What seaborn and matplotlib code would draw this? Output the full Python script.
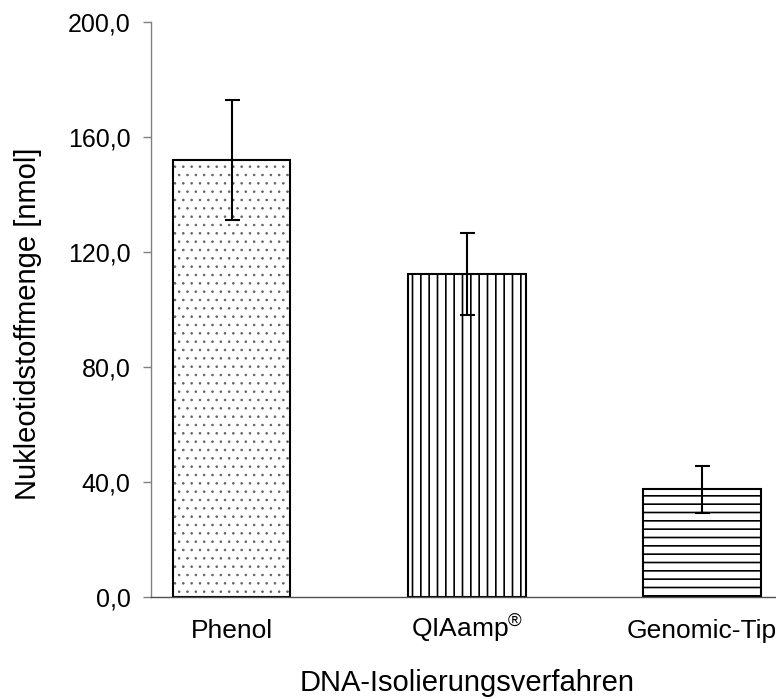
import matplotlib
matplotlib.use("Agg")
import matplotlib.pyplot as plt
import matplotlib.colors as mcolors
import seaborn as sns
import pandas as pd

# ---- data ----
methods = ["Phenol", "QIAamp$^{®}$", "Genomic-Tip"]
means = [152.0, 112.3, 37.5]
sds = [21.0, 14.2, 8.2]
hatches = ["..", "||", "--"]
hatch_colors = ["#606060", "black", "black"]
hatch_widths = [0.6, 1.2, 1.2]
yticks = [0, 40, 80, 120, 160, 200]
ytick_labels = ["0,0", "40,0", "80,0", "120,0", "160,0", "200,0"]
xlabel = "DNA-Isolierungsverfahren"
ylabel = "Nukleotidstoffmenge [nmol]"

sns.set_theme(style="white")
plt.rcParams["font.family"] = ["Liberation Sans", "DejaVu Sans"]
plt.rcParams["mathtext.fontset"] = "custom"
plt.rcParams["mathtext.rm"] = "Liberation Sans"
plt.rcParams["mathtext.it"] = "Liberation Sans:italic"
plt.rcParams["mathtext.bf"] = "Liberation Sans:bold"
plt.rcParams["hatch.linewidth"] = 1.2

df = pd.DataFrame({"method": methods, "value": means, "sd": sds})

fig = plt.figure(figsize=(7.76, 6.99), dpi=100)
ax = fig.add_axes([150.5 / 776, 102 / 699, (783 - 150.5) / 776, 575 / 699])

sns.barplot(data=df, x="method", y="value", order=methods, color="white",
            edgecolor="black", linewidth=1.5, errorbar=None, width=0.5,
            saturation=1, ax=ax)
for patch, h, hc, hw in zip(ax.patches, hatches, hatch_colors, hatch_widths):
    patch.set_hatch(h)
    patch.set_edgecolor("black")
    patch.set_facecolor("white")
    done = False
    if hasattr(patch, "set_hatchcolor"):
        try:
            patch.set_hatchcolor(hc)
            done = True
        except Exception:
            pass
    if not done:
        patch._hatch_color = mcolors.to_rgba(hc)
    if hasattr(patch, "set_hatch_linewidth"):
        try:
            patch.set_hatch_linewidth(hw)
        except Exception:
            pass
    patch.stale = True

ax.errorbar(x=df["method"], y=df["value"], yerr=df["sd"], fmt="none",
            ecolor="black", elinewidth=1.5, capsize=5.4, capthick=1.5, zorder=5)

ax.set_xlim(-0.345, 2.345)
ax.set_ylim(0, 200)
ax.set_yticks(yticks)
ax.set_yticklabels(ytick_labels, fontsize=18, color="black")
ax.tick_params(axis="y", direction="out", length=5.8, width=1, color="#808080",
               pad=8.6, left=True)
ax.tick_params(axis="x", length=0, pad=29.5, labelsize=19, labelcolor="black")
for lab in ax.get_xticklabels():
    lab.set_verticalalignment("baseline")

for s in ["top", "right"]:
    ax.spines[s].set_visible(False)
ax.spines["left"].set_color("#808080")
ax.spines["left"].set_linewidth(1.0)
ax.spines["bottom"].set_color("#505050")
ax.spines["bottom"].set_linewidth(1.0)
ax.spines["left"].set_zorder(6)
ax.spines["bottom"].set_zorder(6)

ax.set_xlabel(xlabel, fontsize=21, color="black")
ax.set_ylabel(ylabel, fontsize=21, color="black")
ax.xaxis.set_label_coords(0.5, -0.125)
ax.yaxis.set_label_coords(-0.172, 0.475)

fig.savefig("out.png", dpi=100)
